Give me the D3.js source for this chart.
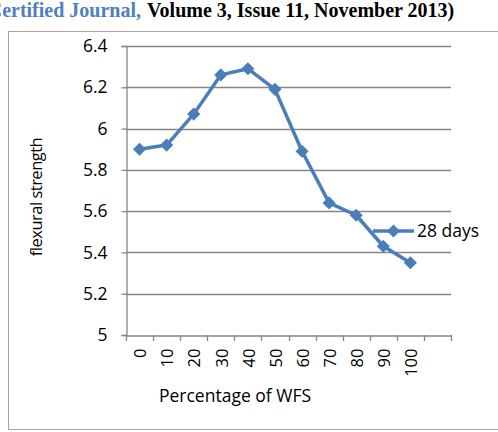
<!DOCTYPE html>
<html><head><meta charset="utf-8">
<script src="https://cdn.jsdelivr.net/npm/d3@7"></script>
<style>body{margin:0;background:#fff}svg{display:block}</style>
</head><body>
<script>
const categories = ["0","10","20","30","40","50","60","70","80","90","100",""];
const values = [5.9, 5.92, 6.07, 6.26, 6.29, 6.19, 5.89, 5.64, 5.58, 5.43, 5.35];
const yTicks = [5, 5.2, 5.4, 5.6, 5.8, 6, 6.2, 6.4];
const seriesName = "28 days";
const yTitle = "flexural strength";
const xTitle = "Percentage of WFS";

(function(){
const W = 498, H = 432;
const svg = d3.select("body").append("svg").attr("width", W).attr("height", H);
const font = "'Open Sans', sans-serif";

// header text
const serif = "'Liberation Serif', serif";
svg.append("text").attr("x", 141).attr("y", 17).attr("text-anchor", "end").attr("fill", "#4f81bd")
  .style("font-family", serif).style("font-weight", "bold").style("font-size", "20px").text("Certified Journal,");
svg.append("text").attr("x", 147).attr("y", 17).attr("fill", "#000")
  .style("font-family", serif).style("font-weight", "bold").style("font-size", "20px").text("Volume 3, Issue 11, November 2013)");

// frame
svg.append("rect").attr("x", 8.5).attr("y", 31.5).attr("width", 490).attr("height", 398)
  .attr("fill", "none").attr("stroke", "#a6a6a6").attr("stroke-width", 1);

const pL = 126, pR = 451, pT = 46, pB = 335;
const x = d3.scaleBand().domain(categories.map((c,i)=>i)).range([pL, pR]).padding(0);
const y = d3.scaleLinear().domain([5, 6.4]).range([pB, pT]);

// gridlines
svg.append("g").selectAll("line").data(yTicks.filter(t=>t>5)).join("line")
  .attr("x1", pL).attr("x2", pR).attr("y1", d=>Math.round(y(d))+0.5).attr("y2", d=>Math.round(y(d))+0.5)
  .attr("stroke", "#868686").attr("stroke-width", 1.3);

// y axis
const yAxis = svg.append("g").attr("transform", `translate(${pL+0.5},0)`)
  .call(d3.axisLeft(y).tickValues(yTicks).tickFormat(d=>String(+d.toFixed(1))).tickSize(5).tickPadding(14));
yAxis.select(".domain").attr("stroke", "#868686").attr("stroke-width", 1.3);
yAxis.selectAll(".tick line").attr("stroke", "#868686").attr("stroke-width", 1.3);
yAxis.selectAll("text").style("font-family", font).style("font-size", "17.5px").attr("fill", "#000");

// x axis
const xAxis = svg.append("g").attr("transform", `translate(0,${pB+0.5})`)
  .call(d3.axisBottom(x).tickFormat(i=>categories[i]).tickSize(0).tickPadding(8));
xAxis.select(".domain").attr("stroke", "#868686").attr("stroke-width", 1.3);
xAxis.selectAll(".tick text").style("font-family", font).style("font-size", "16.5px").attr("fill", "#000")
  .attr("transform", "rotate(-90)").attr("text-anchor", "end").attr("x", -13).attr("y", 1).attr("dy", "0.35em");
// tick marks at category boundaries
const bounds = d3.range(categories.length+1).map(i=> i<categories.length ? x(i) : x(categories.length-1)+x.bandwidth());
svg.append("g").selectAll("line").data(bounds).join("line")
  .attr("x1", d=>Math.round(d)+0.5).attr("x2", d=>Math.round(d)+0.5).attr("y1", pB).attr("y2", pB+6)
  .attr("stroke", "#868686").attr("stroke-width", 1.3);

// axis titles
svg.append("text").attr("transform", `translate(42,197) rotate(-90)`)
  .attr("text-anchor", "middle").style("font-family", font).style("font-size", "16.5px")
  .style("letter-spacing", "-0.5px").text(yTitle);
svg.append("text").attr("x", 235).attr("y", 402).attr("text-anchor", "middle")
  .style("font-family", font).style("font-size", "17.5px").text(xTitle);

// series
const color = "#4a7ebb";
const cx = i => x(i) + x.bandwidth()/2;
svg.append("path").datum(values)
  .attr("d", d3.line().x((d,i)=>cx(i)).y(d=>y(d)))
  .attr("fill", "none").attr("stroke", color).attr("stroke-width", 3.5).attr("stroke-linejoin", "round");
const diamond = d3.symbol().type(d3.symbolDiamond2).size(110);
svg.append("g").selectAll("path").data(values).join("path")
  .attr("d", diamond).attr("transform", (d,i)=>`translate(${cx(i)},${y(d)})`).attr("fill", color);

// legend
const ly = 231;
svg.append("line").attr("x1", 373).attr("x2", 414).attr("y1", ly).attr("y2", ly)
  .attr("stroke", color).attr("stroke-width", 3.5);
svg.append("path").attr("d", diamond).attr("transform", `translate(393.5,${ly})`).attr("fill", color);
svg.append("text").attr("x", 417).attr("y", ly).attr("dy", "0.35em")
  .style("font-family", font).style("font-size", "17.5px").text(seriesName);
})();
</script>
</body></html>
